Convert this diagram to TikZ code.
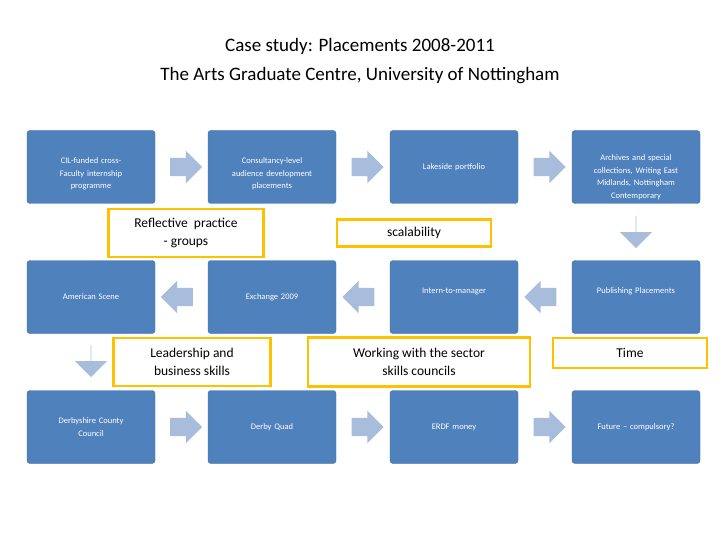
\documentclass[tikz,border=0pt]{standalone}
\usepackage{fontspec}
\setmainfont{Carlito}
\usetikzlibrary{shapes.arrows}
\usetikzlibrary{calc}
\definecolor{boxblue}{HTML}{4F81BD}
\definecolor{boxline}{HTML}{3C6A9E}
\definecolor{arrowblue}{HTML}{A7BDDB}
\definecolor{markyellow}{HTML}{FFC000}
\tikzset{
  Stufe/.style={draw=boxline, fill=boxblue, rounded corners=3pt, text=white,
    minimum width=128pt, minimum height=73pt, text width=122pt, align=center,
    font=\fontsize{8.5}{12.5}\selectfont, inner sep=3pt},
  Pfeil/.style={single arrow, fill=arrowblue, draw=none, minimum height=32pt,
    single arrow head extend=7pt, minimum width=32pt, inner sep=0pt, shape border rotate=#1},
  Marke/.style={draw=markyellow, line width=2.5pt, fill=white, align=center,
    font=\fontsize{13.5}{18}\selectfont, inner sep=2pt}
}
\newcommand{\schaft}{\rule{0pt}{18pt}}
\begin{document}
\begin{tikzpicture}[x=1pt,y=-1pt]
\useasboundingbox (0,0) rectangle (720,540);

%Titel
\node (titel) [align=center, font=\fontsize{19}{29}\selectfont] at (360,61)
  {Case study: Placements 2008-2011\\The Arts Graduate Centre, University of Nottingham};

%Zeile 1
\node (cil) [Stufe, text depth=12pt] at (91,167) {CIL-funded cross-\\Faculty internship\\programme};
\node (cons) [Stufe, text depth=12pt] at (272,167) {Consultancy-level\\audience development\\placements};
\node (lake) [Stufe] at (454,167) {Lakeside portfolio};
\node (arch) [Stufe, text depth=18pt] at (636,167) {Archives and special\\collections, Writing East\\Midlands, Nottingham\\Contemporary};

%Zeile 2
\node (amer) [Stufe] at (91,297) {American Scene};
\node (exch) [Stufe] at (272,297) {Exchange 2009};
\node (intern) [Stufe, text depth=12pt] at (454,297) {Intern-to-manager};
\node (publ) [Stufe, text depth=12pt] at (636,297) {Publishing Placements};

%Zeile 3
\node (derb) [Stufe] at (91,427) {Derbyshire County\\Council};
\node (quad) [Stufe] at (272,427) {Derby Quad};
\node (erdf) [Stufe] at (454,427) {ERDF money};
\node (fut) [Stufe] at (636,427) {Future -- compulsory?};

%Pfeile
\node (p1) [Pfeil=0] at ($(cil.east)!0.5!(cons.west)$) {\schaft};
\node (p2) [Pfeil=0] at ($(cons.east)!0.5!(lake.west)$) {\schaft};
\node (p3) [Pfeil=0] at ($(lake.east)!0.5!(arch.west)$) {\schaft};
\node (p4) [Pfeil=270] at (636,232) {\schaft};
\node (p5) [Pfeil=180] at ($(intern.west)!0.5!(publ.east)$) {\schaft};
\node (p6) [Pfeil=180] at ($(exch.west)!0.5!(intern.east)$) {\schaft};
\node (p7) [Pfeil=180] at ($(amer.east)!0.5!(exch.west)$) {\schaft};
\node (p8) [Pfeil=270] at (91,361) {\schaft};
\node (p9) [Pfeil=0] at ($(derb.east)!0.5!(quad.west)$) {\schaft};
\node (p10) [Pfeil=0] at ($(quad.east)!0.5!(erdf.west)$) {\schaft};
\node (p11) [Pfeil=0] at ($(erdf.east)!0.5!(fut.west)$) {\schaft};

%Markierungen
\node (refl) [Marke, minimum width=155pt, minimum height=48pt] at (186,233) {Reflective\ \ practice\\- groups};
\node (scal) [Marke, minimum width=154pt, minimum height=27pt] at (414,233) {scalability};
\node (lead) [Marke, minimum width=157pt, minimum height=48pt] at (192,362) {Leadership and\\business skills};
\node (work) [Marke, minimum width=222pt, minimum height=49pt] at (419,362) {Working with the sector\\skills councils};
\node (time) [Marke, minimum width=154pt, minimum height=30pt] at (630,353) {Time};
\end{tikzpicture}
\end{document}
